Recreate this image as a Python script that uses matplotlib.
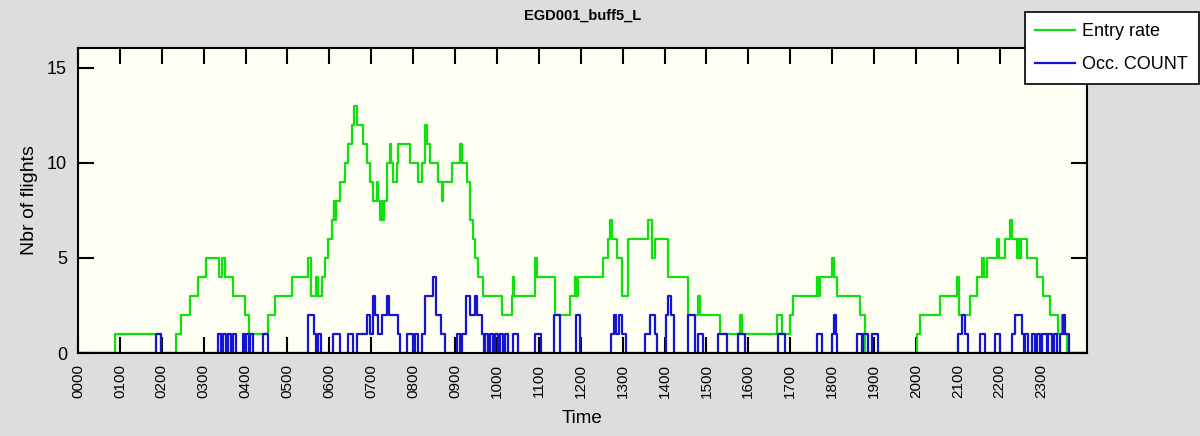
import matplotlib
matplotlib.use("Agg")
import matplotlib.pyplot as plt

# ---------------- data (time in minutes since 00:00) ----------------
entry_t = [0, 53, 119, 140, 148, 160, 172, 184, 202, 206, 210, 222, 239, 245, 272, 282,
           306, 329, 334, 341, 343, 349, 354, 358, 364, 366, 367, 369, 375, 382, 387, 392,
           395, 400, 408, 414, 418, 422, 428, 430, 432, 435, 436, 438, 442, 447, 448, 451,
           457, 458, 475, 487, 493, 497, 500, 504, 516, 521, 523, 536, 547, 550, 557, 561,
           566, 568, 573, 580, 607, 621, 623, 625, 654, 657, 683, 704, 712, 713, 716, 752,
           759, 762, 765, 772, 779, 788, 816, 822, 826, 845, 874, 888, 891, 919, 948, 951,
           1001, 1008, 1020, 1024, 1058, 1060, 1062, 1080, 1083, 1087, 1120, 1127, 1201,
           1206, 1234, 1259, 1262, 1277, 1287, 1294, 1297, 1302, 1316, 1319, 1327, 1335,
           1337, 1345, 1347, 1349, 1350, 1359, 1373, 1382, 1392, 1403, 1409, 1411, 1416, 1445]
entry_v = [0, 1, 0, 1, 2, 3, 4, 5, 4, 5, 4, 3, 2, 1, 2, 3,
           4, 5, 3, 4, 3, 4, 5, 6, 7, 8, 7, 8, 9, 10, 11, 12,
           13, 12, 11, 10, 9, 8, 9, 8, 7, 8, 7, 8, 10, 11, 10, 9,
           10, 11, 10, 9, 10, 12, 11, 10, 9, 8, 9, 10, 11, 10, 9, 7,
           6, 5, 4, 3, 2, 3, 4, 3, 5, 4, 2, 3, 4, 3, 4, 5,
           6, 7, 6, 5, 3, 6, 7, 5, 6, 4, 2, 3, 2, 1, 2, 1,
           2, 1, 2, 3, 4, 3, 4, 5, 4, 3, 2, 0, 1,
           2, 3, 4, 2, 3, 4, 5, 4, 5, 6, 5, 6, 7,
           6, 5, 6, 5, 6, 5, 4, 3, 2, 1, 2, 1, 0, 0]

occ_t = [0, 112, 119, 200, 205, 208, 212, 215, 219, 222, 226, 236, 239, 241, 245, 246, 251,
         265, 272, 329, 338, 341, 344, 348, 365, 375, 387, 394, 400, 414, 418, 422, 425,
         430, 435, 442, 445, 458, 461, 471, 480, 483, 487, 493, 497, 508, 513, 520, 526,
         543, 547, 550, 556, 561, 568, 571, 578, 581, 583, 587, 590, 594, 597, 601, 604,
         609, 611, 616, 623, 630, 654, 663, 682, 690, 713, 719, 763, 768, 770, 775, 779,
         785, 812, 819, 826, 829, 842, 845, 849, 853, 874, 884, 888, 895, 916, 929, 945,
         955, 1002, 1012, 1058, 1065, 1080, 1083, 1085, 1087, 1116, 1123, 1124, 1131, 1137,
         1146, 1260, 1266, 1270, 1274, 1292, 1299, 1313, 1320, 1337, 1342, 1352, 1355, 1356,
         1360, 1366, 1370, 1373, 1378, 1380, 1388, 1389, 1395, 1398, 1402, 1406, 1411, 1413,
         1419, 1445]
occ_v = [0, 1, 0, 1, 0, 1, 0, 1, 0, 1, 0, 1, 0, 1, 0, 1, 0,
         1, 0, 2, 1, 0, 1, 0, 1, 0, 1, 0, 1, 2, 1, 3, 2,
         1, 2, 3, 2, 1, 0, 1, 0, 1, 0, 1, 3, 4, 2, 1, 0,
         1, 0, 1, 3, 2, 3, 2, 1, 0, 1, 0, 1, 0, 1, 0, 1,
         0, 1, 0, 1, 0, 1, 0, 2, 0, 2, 0, 1, 2, 1, 2, 1,
         0, 1, 2, 1, 0, 2, 3, 2, 0, 2, 0, 1, 0, 1, 0, 1,
         0, 1, 0, 1, 0, 1, 2, 1, 0, 1, 0, 1, 0, 1,
         0, 1, 2, 1, 0, 1, 0, 1, 0, 1, 2, 1, 0, 1,
         0, 1, 0, 1, 0, 1, 0, 1, 0, 1, 0, 1, 2, 1,
         0, 0]

hour_ticks = list(range(0, 1440, 60))
hour_labels = ["%02d00" % h for h in range(24)]
y_ticks = [0, 5, 10, 15]

series_labels = ["Entry rate", "Occ. COUNT"]
title = "EGD001_buff5_L"

# ---------------- style ----------------
plt.rcParams['font.family'] = ['Liberation Sans', 'DejaVu Sans']

fig = plt.figure(figsize=(12, 4.36), dpi=100, facecolor='#dddddd')
ax = fig.add_axes([78/1200, 1-353/436, (1087-78)/1200, (353-48)/436])
ax.set_facecolor('#fefef2')

g_line, = ax.step(entry_t, entry_v, where='post', color='#10e010', lw=1.6, label=series_labels[0])
b_line, = ax.step(occ_t, occ_v, where='post', color='#1515d0', lw=1.6, label=series_labels[1])

ax.set_xlim(0, 1445)
ax.set_ylim(0, 16.05)
ax.set_xticks(hour_ticks)
ax.set_xticklabels(hour_labels, rotation=90, fontsize=11)
ax.set_yticks(y_ticks)
ax.set_yticklabels([str(v) for v in y_ticks], fontsize=13)
ax.tick_params(direction='in', length=11.5, width=1.5, top=True, right=True,
               colors='black', pad=8)
for s in ax.spines.values():
    s.set_linewidth(1.5)
    s.set_zorder(3)

fig.text(582.5/1200, 1-16/436, title, ha='center', va='center', fontsize=10.5,
         fontweight='bold')
fig.text(30/1200, 1-200/436, 'Nbr of flights', rotation=90, ha='center', va='center',
         fontsize=14)
fig.text(582/1200, 1-418/436, 'Time', ha='center', va='center', fontsize=13.5)

leg = fig.legend(handles=[g_line, b_line], loc='upper right',
                 bbox_to_anchor=(1199/1200, 1-12/436), fontsize=13, frameon=True,
                 fancybox=False, edgecolor='black', facecolor='white', framealpha=1,
                 handlelength=2.2, handletextpad=0.4, borderpad=0.6, labelspacing=0.9,
                 borderaxespad=0)
leg.get_frame().set_linewidth(1.2)

fig.savefig('out.png', dpi=100, facecolor=fig.get_facecolor())
